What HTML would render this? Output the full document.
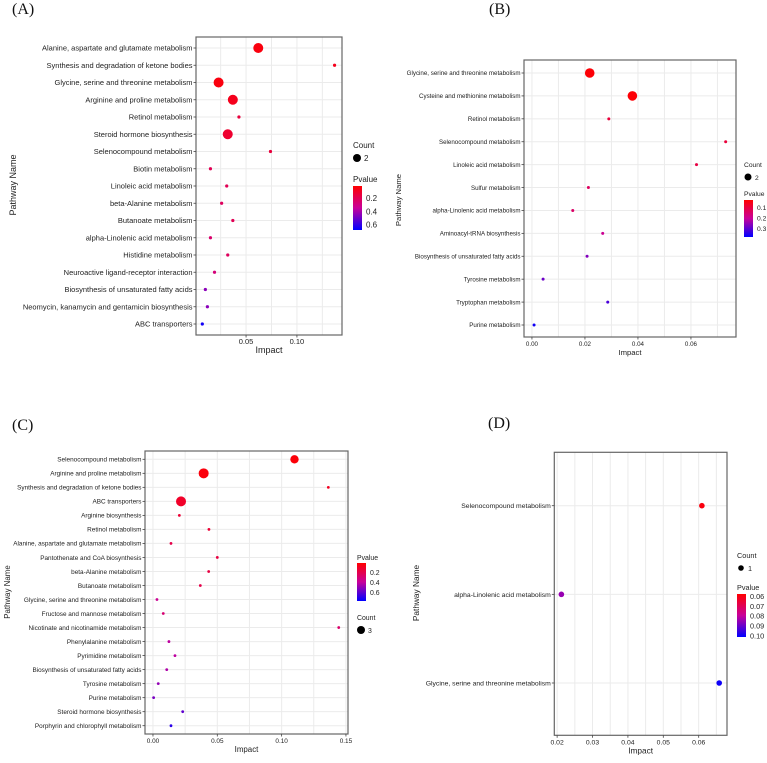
<!DOCTYPE html>
<html><head><meta charset="utf-8"><style>
html,body{margin:0;padding:0;background:#fff}
svg text{font-family:"Liberation Sans",Arial,sans-serif;fill:#222}
.pl{font-family:"Liberation Serif",serif !important;font-size:16px;fill:#111}
</style></head><body>
<svg id="fig" width="767" height="758" xmlns="http://www.w3.org/2000/svg">
<defs>
<linearGradient id="gA" x1="0" y1="0" x2="0" y2="1"><stop offset="0" stop-color="#ff0000"/><stop offset="0.5" stop-color="#c8009a"/><stop offset="1" stop-color="#0000ff"/></linearGradient>
</defs>
</svg>
<script>
// ---- Panel A data ----
const aCats = ["Alanine, aspartate and glutamate metabolism","Synthesis and degradation of ketone bodies","Glycine, serine and threonine metabolism","Arginine and proline metabolism","Retinol metabolism","Steroid hormone biosynthesis","Selenocompound metabolism","Biotin metabolism","Linoleic acid metabolism","beta-Alanine metabolism","Butanoate metabolism","alpha-Linolenic acid metabolism","Histidine metabolism","Neuroactive ligand-receptor interaction","Biosynthesis of unsaturated fatty acids","Neomycin, kanamycin and gentamicin biosynthesis","ABC transporters"];
const aImpact = [0.062,0.137,0.023,0.037,0.043,0.032,0.074,0.015,0.031,0.026,0.037,0.015,0.032,0.019,0.010,0.012,0.007];
const aPval = [0.05,0.08,0.05,0.08,0.15,0.12,0.15,0.2,0.2,0.22,0.2,0.25,0.22,0.28,0.45,0.45,0.65];
const aCount = [2,1,2,2,1,2,1,1,1,1,1,1,1,1,1,1,1];
const aXTicks = [0.05,0.10];
const aXLabels = ["0.05","0.10"];
const aPTicks = [0.2,0.4,0.6];
// ---- Panel B data ----
const bCats = ["Glycine, serine and threonine metabolism","Cysteine and methionine metabolism","Retinol metabolism","Selenocompound metabolism","Linoleic acid metabolism","Sulfur metabolism","alpha-Linolenic acid metabolism","Aminoacyl-tRNA biosynthesis","Biosynthesis of unsaturated fatty acids","Tyrosine metabolism","Tryptophan metabolism","Purine metabolism"];
const bImpact = [0.0218,0.0379,0.029,0.0731,0.0621,0.0213,0.0154,0.0267,0.0208,0.0042,0.0286,0.0008];
const bPval = [0.04,0.04,0.1,0.1,0.11,0.14,0.15,0.2,0.27,0.29,0.32,0.37];
const bCount = [2,2,1,1,1,1,1,1,1,1,1,1];
const bXTicks = [0,0.02,0.04,0.06];
const bXLabels = ["0.00","0.02","0.04","0.06"];
const bPTicks = [0.1,0.2,0.3];
// ---- Panel C data ----
const cCats = ["Selenocompound metabolism","Arginine and proline metabolism","Synthesis and degradation of ketone bodies","ABC transporters","Arginine biosynthesis","Retinol metabolism","Alanine, aspartate and glutamate metabolism","Pantothenate and CoA biosynthesis","beta-Alanine metabolism","Butanoate metabolism","Glycine, serine and threonine metabolism","Fructose and mannose metabolism","Nicotinate and nicotinamide metabolism","Phenylalanine metabolism","Pyrimidine metabolism","Biosynthesis of unsaturated fatty acids","Tyrosine metabolism","Purine metabolism","Steroid hormone biosynthesis","Porphyrin and chlorophyll metabolism"];
const cImpact = [0.110,0.0394,0.1363,0.0218,0.0205,0.0435,0.014,0.050,0.0433,0.0368,0.0031,0.008,0.1444,0.0124,0.0171,0.0107,0.0041,0.0005,0.0231,0.014];
const cPval = [0.04,0.05,0.1,0.12,0.15,0.15,0.2,0.18,0.18,0.2,0.38,0.3,0.28,0.42,0.42,0.45,0.5,0.55,0.6,0.7];
const cCount = [2,3,1,3,1,1,1,1,1,1,1,1,1,1,1,1,1,1,1,1];
const cXTicks = [0,0.05,0.10,0.15];
const cXLabels = ["0.00","0.05","0.10","0.15"];
const cPTicks = [0.2,0.4,0.6];
// ---- Panel D data ----
const dCats = ["Selenocompound metabolism","alpha-Linolenic acid metabolism","Glycine, serine and threonine metabolism"];
const dImpact = [0.0609,0.0212,0.0658];
const dPval = [0.06,0.085,0.10];
const dCount = [1,1,1];
const dXTicks = [0.02,0.03,0.04,0.05,0.06];
const dXLabels = ["0.02","0.03","0.04","0.05","0.06"];
const dPTicks = [0.06,0.07,0.08,0.09,0.10];

const NS="http://www.w3.org/2000/svg";
const svg=document.getElementById('fig');
function mk(tag,attrs,parent){const e=document.createElementNS(NS,tag);for(const k in attrs)e.setAttribute(k,attrs[k]);(parent||svg).appendChild(e);return e;}
function lerp(a,b,t){return Math.round(a+(b-a)*t);}
function pcol(t){t=Math.max(0,Math.min(1,t));let c0,c1,u;
 if(t<0.5){c0=[255,0,0];c1=[200,0,154];u=t/0.5;}else{c0=[200,0,154];c1=[0,0,255];u=(t-0.5)/0.5;}
 return `rgb(${lerp(c0[0],c1[0],u)},${lerp(c0[1],c1[1],u)},${lerp(c0[2],c1[2],u)})`;}

function panel(o){
 const g=mk('g',{});
 
 
 const X=v=>o.L+(v-o.xmin)/(o.xmax-o.xmin)*(o.R-o.L);
 const n=o.cats.length;
 const Y=i=>o.y0+i*(o.y1-o.y0)/(n-1);
 mk('rect',{x:o.L,y:o.T,width:o.R-o.L,height:o.B-o.T,fill:'#fff'},g);
 // minor grid
 const step=o.xt[1]-o.xt[0];
 for(let v=o.xt[0]-step/2;v<=o.xmax;v+=step/2){
   if(v<o.xmin)continue;
   mk('line',{x1:X(v),x2:X(v),y1:o.T,y2:o.B,stroke:'#ebebeb','stroke-width':1},g);
 }
 for(let i=0;i<n;i++){
   mk('line',{x1:o.L,x2:o.R,y1:Y(i),y2:Y(i),stroke:'#ebebeb','stroke-width':1},g);
 }
 mk('rect',{x:o.L,y:o.T,width:o.R-o.L,height:o.B-o.T,fill:'none',stroke:'#666','stroke-width':1.2},g);
 // x ticks
 o.xt.forEach((v,i)=>{
   mk('line',{x1:X(v),x2:X(v),y1:o.B,y2:o.B+2.5,stroke:'#444','stroke-width':0.8},g);
   const t=mk('text',{x:X(v),y:o.B+9,'font-size':o.fs,'text-anchor':'middle',fill:'#333'},g);
   t.textContent=o.xl[i];
   
   
 });
 const xt=mk('text',{x:(o.L+o.R)/2,y:o.B+18,'font-size':o.fs+1.5,'text-anchor':'middle'},g);
 xt.textContent='Impact';
 
 
 const yt=mk('text',{x:o.ytx,y:o.yty,'font-size':o.fs+1.5,'text-anchor':'middle',transform:`rotate(-90 ${o.ytx} ${o.yty})`},g);
 yt.textContent='Pathway Name';
 
 
 // y labels + points
 for(let i=0;i<n;i++){
   mk('line',{x1:o.L-2.5,x2:o.L,y1:Y(i),y2:Y(i),stroke:'#444','stroke-width':0.8},g);
   const t=mk('text',{x:o.L-3.5,y:Y(i)+o.fs*0.36,'font-size':o.fs,'text-anchor':'end'},g);
   t.textContent=o.cats[i];
   
   
   const c=mk('circle',{cx:X(o.imp[i]),cy:Y(i),r:o.rad(o.cnt[i]),fill:pcol((o.pv[i]-o.pmin)/(o.pmax-o.pmin))},g);
   
   
 }
 // legends
 const lf=o.fs+0.5;
 const ct=mk('text',{x:o.cntX,y:o.cntY,'font-size':lf},g);ct.textContent='Count';
 
 
 mk('circle',{cx:o.cntX+4,cy:o.cntY+10,r:o.lr,fill:'#000'},g);
 const cl=mk('text',{x:o.cntX+11,y:o.cntY+13,'font-size':lf},g);cl.textContent=o.cntLab;
 
 
 const pt=mk('text',{x:o.pX,y:o.pY,'font-size':lf},g);pt.textContent='Pvalue';
 
 
 const bar=mk('rect',{x:o.pX,y:o.barT,width:9,height:o.barB-o.barT,fill:'url(#gA)'},g);
 
 
 o.pt.forEach(v=>{
   const yy=o.barT+(v-o.pmin)/(o.pmax-o.pmin)*(o.barB-o.barT);
   const t=mk('text',{x:o.pX+13,y:yy+3,'font-size':lf},g);
   t.textContent=(o.pdec?v.toFixed(2):String(v));
   
   
 });
 const pl=mk('text',{x:o.plx,y:o.ply,class:'pl'},g);pl.textContent=o.label;
 
 
}

panel({id:'a',label:'(A)',plx:12,ply:14,cats:aCats,imp:aImpact,pv:aPval,cnt:aCount,xt:aXTicks,xl:aXLabels,pt:aPTicks,
 L:196,R:342,T:37,B:335,y0:48,y1:324,xmin:0.0008,xmax:0.1443,fs:7.5,ytx:16,yty:185,
 rad:c=>c>1?5:1.6,lr:4,cntX:353,cntY:148,cntLab:'2',pX:353,pY:182,barT:186,barB:230,pmin:0.02,pmax:0.68,pdec:false});
panel({id:'b',label:'(B)',plx:489,ply:14,cats:bCats,imp:bImpact,pv:bPval,cnt:bCount,xt:bXTicks,xl:bXLabels,pt:bPTicks,
 L:524,R:736,T:60,B:337,y0:73,y1:325,xmin:-0.003,xmax:0.077,fs:6.2,ytx:401,yty:200,
 rad:c=>c>1?4.8:1.5,lr:3.5,cntX:744,cntY:167,cntLab:'2',pX:744,pY:196,barT:200,barB:237,pmin:0.033,pmax:0.385,pdec:false});
panel({id:'c',label:'(C)',plx:12,ply:430,cats:cCats,imp:cImpact,pv:cPval,cnt:cCount,xt:cXTicks,xl:cXLabels,pt:cPTicks,
 L:145,R:348,T:451,B:734,y0:459.3,y1:725.7,xmin:-0.0062,xmax:0.1516,fs:6.4,ytx:10,yty:592,
 rad:c=>c>2?5:(c>1?4.2:1.4),lr:4,cntX:357,cntY:620,cntLab:'3',pX:357,pY:560,barT:563,barB:601,pmin:0.02,pmax:0.78,pdec:false});
panel({id:'d',label:'(D)',plx:488,ply:428,cats:dCats,imp:dImpact,pv:dPval,cnt:dCount,xt:dXTicks,xl:dXLabels,pt:dPTicks,
 L:554.3,R:727,T:452.3,B:735.3,y0:505.7,y1:683,xmin:0.0192,xmax:0.068,fs:6.8,ytx:419,yty:593,
 rad:c=>2.8,lr:2.8,cntX:737,cntY:558,cntLab:'1',pX:737,pY:590,barT:594,barB:637,pmin:0.058,pmax:0.1015,pdec:true});
</script>
</body></html>
